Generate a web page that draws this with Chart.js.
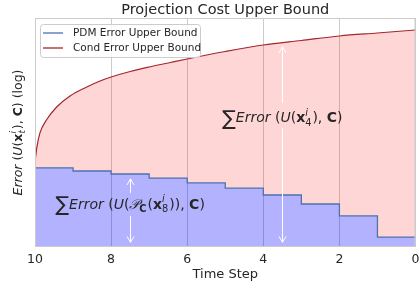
<!DOCTYPE html>
<html>
<head>
<meta charset="utf-8">
<script src="https://cdn.jsdelivr.net/npm/chart.js@4"></script>
<style>
  html, body { margin: 0; padding: 0; background: #fff; }
  #wrap { width: 419px; height: 282px; }
</style>
</head>
<body>
<div id="wrap"><canvas id="chart" width="419" height="282"></canvas></div>
<script>
// values (log y axis)
const timeSteps = [10, 9, 8, 7, 6, 5, 4, 3, 2, 1, 0];
const pdmBound = [10.9, 9.9, 9.05, 8.0, 6.9, 5.9, 4.8, 3.66, 2.55, 1.35, 1.35];
const condTime = [10, 9.95, 9.87, 9.7, 9.43, 9.08, 8.64, 8.29, 8, 7.5, 7, 6.5, 6, 5, 4, 3, 2, 1, 0];
const condBound = [13.0, 20.4, 31.2, 46.1, 68.3, 95.1, 124.8, 149.6, 168.7, 199.2, 228.1, 257.4, 290.4, 364, 443, 507.5, 581.3, 636, 696.6];
const xTicks = [10, 8, 6, 4, 2, 0];

const INK = "#262626";
const FONT = "'DejaVu Sans', sans-serif";

// arrows: [x, top, gapTop, gapBottom, bottom]
const arrows = [
  [3.5, 420, 77, 36, 1.15],
  [7.5, 7.8, 5.1, 2.55, 1.15]
];

// rich text pieces: [text, style] or {sup, sub}
const annoCond = [["∑", "sum"], ["Error", "i"], [" (", ""], ["U", "i"], ["(", ""], ["x", "b"],
  {sup: "i", sub: "4"}, ["), ", ""], ["C", "b"], [")", ""]];
const annoPdm = [["∑", "sum"], ["Error", "i"], [" (", ""], ["U", "i"], ["(", ""], ["𝒫", "i"],
  {sub: "C", subStyle: "b"}, ["(", ""], ["x", "b"], {sup: "i", sub: "8"}, [")), ", ""], ["C", "b"], [")", ""]];
const yTitle = [["Error", "i"], [" (", ""], ["U", "i"], ["(", ""], ["x", "b"],
  {sup: "i", sub: "t", subStyle: "i"}, ["), ", ""], ["C", "b"], [") (log)", ""]];

function fontFor(style, size) {
  if (style === "sum") return (size * 1.45) + "px " + FONT;
  const s = style.includes("i") ? "italic " : "";
  const w = style.includes("b") ? "bold " : "";
  return s + w + size + "px " + FONT;
}

function layoutRich(ctx, parts, size) {
  let w = 0;
  const out = [];
  parts.forEach(p => {
    if (Array.isArray(p)) {
      ctx.font = fontFor(p[1], size);
      const pw = ctx.measureText(p[0]).width;
      out.push({x: w, text: p[0], font: ctx.font, dy: p[1] === "sum" ? size * 0.18 : 0});
      w += pw;
    } else {
      const small = size * 0.7;
      let pw = 0;
      if (p.sup) {
        ctx.font = fontFor("i", small);
        pw = Math.max(pw, ctx.measureText(p.sup).width);
        out.push({x: w, text: p.sup, font: ctx.font, dy: -size * 0.45});
      }
      if (p.sub) {
        ctx.font = fontFor(p.subStyle || "", small);
        pw = Math.max(pw, ctx.measureText(p.sub).width);
        out.push({x: w, text: p.sub, font: ctx.font, dy: size * 0.25});
      }
      w += pw + 1;
    }
  });
  return {width: w, items: out};
}

function drawRich(ctx, parts, size, cx, cy) {
  const lay = layoutRich(ctx, parts, size);
  ctx.fillStyle = INK;
  ctx.textBaseline = "alphabetic";
  ctx.textAlign = "left";
  const x0 = cx - lay.width / 2, base = cy + size * 0.36;
  lay.items.forEach(it => {
    ctx.font = it.font;
    ctx.fillText(it.text, x0 + it.x, base + it.dy);
  });
}

const decor = {
  id: "decor",
  afterDatasetsDraw(chart) {
    const {ctx, chartArea: a, scales: {x, y}} = chart;
    ctx.save();
    // frame
    ctx.strokeStyle = "#cccccc";
    ctx.lineWidth = 1;
    ctx.strokeRect(a.left + 0.5, a.top + 0.5, a.right - a.left - 1, a.bottom - a.top - 1);

    // white arrows
    ctx.strokeStyle = "#ffffff";
    ctx.lineWidth = 1;
    arrows.forEach(([t, top, g1, g2, bot]) => {
      const px = Math.round(x.getPixelForValue(t)) + 0.5;
      const yt = y.getPixelForValue(top), ya = y.getPixelForValue(g1);
      const yb = y.getPixelForValue(g2), yo = y.getPixelForValue(bot);
      ctx.beginPath();
      ctx.moveTo(px, yt); ctx.lineTo(px, ya);
      ctx.moveTo(px, yb); ctx.lineTo(px, yo);
      ctx.moveTo(px - 3.5, yt + 6); ctx.lineTo(px, yt); ctx.lineTo(px + 3.5, yt + 6);
      ctx.moveTo(px - 3.5, yo - 6); ctx.lineTo(px, yo); ctx.lineTo(px + 3.5, yo - 6);
      ctx.stroke();
    });

    // annotations, centred on the arrows
    drawRich(ctx, annoCond, 14, x.getPixelForValue(3.5), y.getPixelForValue(50));
    drawRich(ctx, annoPdm, 14, x.getPixelForValue(7.5), y.getPixelForValue(3.7));

    // legend box
    const lx = a.left + 5, ly = a.top + 6;
    ctx.fillStyle = "rgba(255,255,255,0.8)";
    ctx.strokeStyle = "#cccccc";
    ctx.beginPath();
    ctx.roundRect(lx + 0.5, ly + 0.5, 160, 33, 3);
    ctx.fill(); ctx.stroke();
    chart.data.datasets.forEach((ds, i) => {
      const yy = ly + 9 + i * 15;
      ctx.strokeStyle = ds.borderColor;
      ctx.lineWidth = 1.3;
      ctx.beginPath();
      ctx.moveTo(lx + 3, yy); ctx.lineTo(lx + 23, yy);
      ctx.stroke();
      ctx.fillStyle = INK;
      ctx.font = "10.5px " + FONT;
      ctx.textBaseline = "middle";
      ctx.fillText(ds.label, lx + 33, yy);
    });
    ctx.restore();
  },
  afterDraw(chart) {
    const {ctx, chartArea: a} = chart;
    ctx.save();
    ctx.translate(17, (a.top + a.bottom) / 2);
    ctx.rotate(-Math.PI / 2);
    drawRich(ctx, yTitle, 12.5, 0, 0);
    ctx.restore();
    // title
    ctx.save();
    ctx.fillStyle = INK;
    ctx.font = "14.5px " + FONT;
    ctx.textAlign = "center";
    ctx.textBaseline = "middle";
    ctx.fillText("Projection Cost Upper Bound", (a.left + a.right) / 2, 10.5);
    ctx.restore();
  }
};

new Chart(document.getElementById("chart"), {
  type: "line",
  data: {
    datasets: [
      {
        label: "PDM Error Upper Bound",
        data: timeSteps.map((t, i) => ({x: t, y: pdmBound[i]})),
        stepped: "before",
        borderColor: "#4c72b0",
        borderWidth: 1.3,
        backgroundColor: "rgba(0,0,255,0.3)",
        fill: "start",
        pointRadius: 0
      },
      {
        label: "Cond Error Upper Bound",
        data: condTime.map((t, i) => ({x: t, y: condBound[i]})),
        borderColor: "#a3262a",
        borderWidth: 1.2,
        backgroundColor: "rgba(255,0,0,0.16)",
        fill: 0,
        cubicInterpolationMode: "monotone",
        pointRadius: 0
      }
    ]
  },
  options: {
    responsive: false,
    animation: false,
    layout: {padding: {left: 35, top: 18, right: 3.5, bottom: 0}},
    plugins: {legend: {display: false}, title: {display: false}, tooltip: {enabled: false}},
    scales: {
      x: {
        type: "linear",
        reverse: true,
        min: 0,
        max: 10,
        afterBuildTicks: s => { s.ticks = xTicks.map(v => ({value: v})); },
        afterFit: s => { s.height = 35; s.paddingLeft = 0; s.paddingRight = 0; },
        grid: {color: "#cccccc", drawTicks: false},
        border: {display: false},
        ticks: {color: INK, font: {family: FONT, size: 12.5}, padding: 5, maxRotation: 0},
        title: {display: true, text: "Time Step", color: INK, font: {family: FONT, size: 13}, padding: 0}
      },
      y: {type: "logarithmic", min: 1, max: 1000, display: false}
    }
  },
  plugins: [decor]
});
</script>
</body>
</html>
